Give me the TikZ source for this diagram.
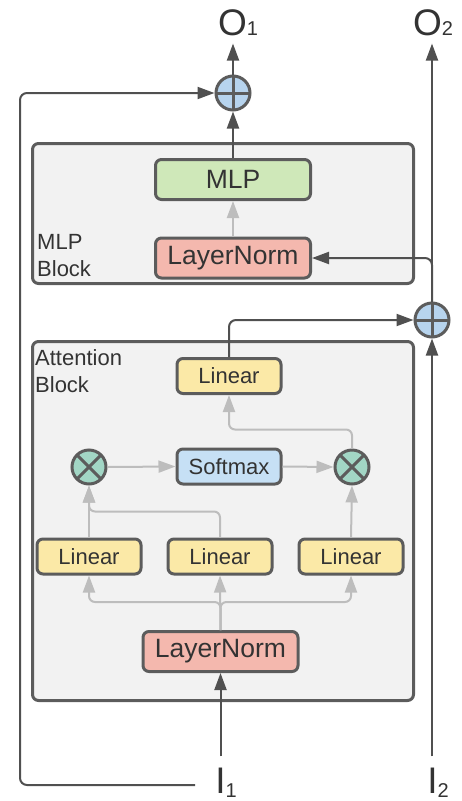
\documentclass[tikz,border=0pt]{standalone}
\usepackage{fontspec}
\setmainfont{Liberation Sans}
\usetikzlibrary{arrows.meta}

% colours
\definecolor{edge}{HTML}{5C5C5C}
\definecolor{ink}{HTML}{333333}
\definecolor{darkline}{HTML}{505050}
\definecolor{lightline}{HTML}{BDBDBD}
\definecolor{blockfill}{HTML}{F2F2F2}
\definecolor{linfill}{HTML}{FBE9A7}
\definecolor{lnfill}{HTML}{F4B8AE}
\definecolor{mlpfill}{HTML}{CFE8B9}
\definecolor{smfill}{HTML}{C6E0F5}
\definecolor{addfill}{HTML}{B7D4EE}
\definecolor{mulfill}{HTML}{A2D6C5}

\newcommand\iolabel[3]{\fontsize{37}{40}\selectfont #1\raisebox{#3}{\fontsize{20}{22}\selectfont #2}}

\tikzset{
  block/.style={draw=edge, line width=3pt, fill=blockfill, rounded corners=6pt,
                inner sep=0pt},
  opbox/.style={draw=edge, line width=3pt, rounded corners=6pt, text=ink,
                inner sep=0pt},
  smallbox/.style={opbox, minimum width=104pt, minimum height=35pt,
                   font=\fontsize{22}{24}\selectfont},
  linbox/.style={smallbox, fill=linfill},
  lnbox/.style={opbox, fill=lnfill, minimum width=155pt, minimum height=40pt,
                font=\fontsize{26.5}{28}\selectfont},
  addop/.style={circle, draw=edge, line width=3pt, fill=addfill, minimum size=34pt,
                inner sep=0pt,
                path picture={
                  \draw[edge, line width=3pt]
                    (path picture bounding box.north) -- (path picture bounding box.south)
                    (path picture bounding box.west) -- (path picture bounding box.east);}},
  mulop/.style={circle, draw=edge, line width=3pt, fill=mulfill, minimum size=34pt,
                inner sep=0pt,
                path picture={
                  \draw[edge, line width=3pt]
                    (path picture bounding box.north west) -- (path picture bounding box.south east)
                    (path picture bounding box.north east) -- (path picture bounding box.south west);}},
  blocklabel/.style={anchor=north west, inner sep=0pt, align=left, text=ink,
                     font=\fontsize{22}{27}\selectfont},
  iotext/.style={anchor=base, inner sep=0pt, text=ink},
  darr/.style={draw=darkline, line width=2pt, rounded corners=7pt,
               -{Triangle[length=17pt,width=12pt]}},
  garr/.style={draw=lightline, line width=2pt, rounded corners=6pt,
               -{Triangle[length=17pt,width=12pt]}},
}

\begin{document}
\begin{tikzpicture}[x=1pt, y=-1pt]
  \useasboundingbox (0,0) rectangle (462,801);

  % block backgrounds
  \node[block, minimum width=381pt, minimum height=140pt] (mlpblock) at (223,213.5) {};
  \node[block, minimum width=381pt, minimum height=359pt] (attblock) at (223,521) {};
  \node[blocklabel] (mlplabel) at (37,234) {MLP\\Block};
  \node[blocklabel] (attlabel) at (35,349) {Attention\\Block};

  % MLP block
  \node[opbox, fill=mlpfill, minimum width=155pt, minimum height=40pt,
        font=\fontsize{26.5}{28}\selectfont] (mlp) at (233,179.5) {MLP};
  \node[lnbox] (ln2) at (233,258) {LayerNorm};

  % attention block
  \node[linbox] (lin4) at (229,376) {Linear};
  \node[smallbox, fill=smfill] (sm) at (229,466.5) {Softmax};
  \node[mulop] (ml) at (89,467) {};
  \node[mulop] (mr) at (352,467) {};
  \node[linbox] (lin1) at (89,556.5) {Linear};
  \node[linbox] (lin2) at (220,556.5) {Linear};
  \node[linbox] (lin3) at (351,556.5) {Linear};
  \node[lnbox] (ln1) at (220.5,651.5) {LayerNorm};

  % residual adds
  \node[addop] (plus1) at (233,93) {};
  \node[addop] (plus2) at (432,320) {};

  % inputs and outputs
  \node[iotext] (o1) at (238,35) {\iolabel{O}{1}{0pt}};
  \node[iotext] (o2) at (433,35) {\iolabel{O}{2}{0pt}};
  \node[iotext] (i1) at (226,793) {\iolabel{I}{1}{-4pt}};
  \node[iotext] (i2) at (438,793) {\iolabel{I}{2}{-4pt}};
  \coordinate (skipstart) at (195,785);
  \coordinate (skipcorner) at (20,785);

  % attention internals (light connectors)
  \draw[garr] (ln1.north) -- (lin2.south);
  \draw[garr] (ln1.north) -- ++(0,-28) -| (lin1.south);
  \draw[garr] (ln1.north) -- ++(0,-28) -| (lin3.south);
  \draw[garr] (lin1.north) -- (ml.south);
  \draw[garr] (lin2.north) -- ++(0,-26) -| (ml.south);
  \draw[garr] (lin3.north) -- (mr.south);
  \draw[garr] (ml.east) -- (sm.west);
  \draw[garr] (sm.east) -- (mr.west);
  \draw[garr] (mr.north) -- ++(0,-19) -| (lin4.south);
  \draw[garr] (ln2.north) -- (mlp.south);

  % main data path (dark connectors)
  \draw[darr] ([yshift=11pt]i1.north -| ln1.south) -- (ln1.south);
  \draw[darr] (lin4.north) |- (plus2.west);
  \draw[darr] ([yshift=11pt]i2.north -| plus2.south) -- (plus2.south);
  \draw[darr] (plus2.north) |- (ln2.east);
  \draw[darr] (plus2.north) -- ([yshift=-8pt]o2.south -| plus2.north);
  \draw[darr] (mlp.north) -- (plus1.south);
  \draw[darr] (plus1.north) -- ([yshift=-8pt]o1.south -| plus1.north);
  \draw[darr] (skipstart) -- (skipcorner) |- (plus1.west);
\end{tikzpicture}
\end{document}
